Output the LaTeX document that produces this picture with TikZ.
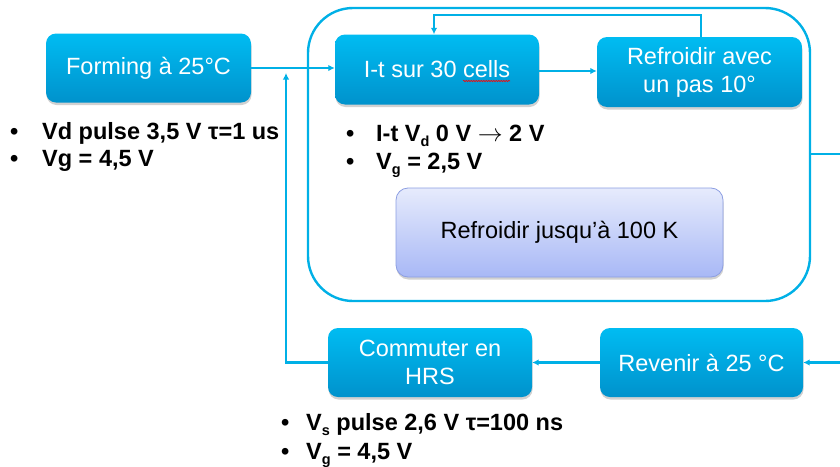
\documentclass[tikz,border=0pt]{standalone}
\usepackage{fontspec}
\setmainfont{Liberation Sans}
\usetikzlibrary{arrows.meta,shadows,decorations.pathmorphing}
\definecolor{cyanline}{RGB}{0,176,230}
\definecolor{boxtop}{RGB}{0,188,242}
\definecolor{boxbot}{RGB}{0,146,204}
\definecolor{lavtop}{RGB}{230,235,252}
\definecolor{lavbot}{RGB}{168,184,246}
\definecolor{lavline}{RGB}{140,158,226}
\newcommand{\mysub}[1]{\raisebox{-5pt}{\fontsize{14.5}{14.5}\selectfont #1}}
\begin{document}
\begin{tikzpicture}[x=1pt,y=-1pt,
  bluebox/.style={rounded corners=10pt, top color=boxtop, bottom color=boxbot, draw=none,
    text=white, align=center, font=\fontsize{23.5}{28}\selectfont, inner sep=0pt,
    drop shadow={shadow xshift=0.5pt, shadow yshift=-2.5pt, opacity=0.3, fill=black!60}},
  lavbox/.style={rounded corners=12pt, top color=lavtop, bottom color=lavbot, draw=lavline,
    line width=0.8pt, text=black, align=center, font=\fontsize{23.5}{28}\selectfont, inner sep=0pt,
    drop shadow={shadow xshift=0.5pt, shadow yshift=-2.5pt, opacity=0.3, fill=black!60}},
  bigbox/.style={rounded corners=45pt, draw=cyanline, line width=2.4pt, inner sep=0pt},
  conn/.style={draw=cyanline, line width=2.2pt},
  arr/.style={-{Latex[length=6.5pt,width=6.5pt]}},
  bul/.style={anchor=base west, inner sep=0pt, font=\fontsize{23.5}{27}\selectfont\bfseries}
]
\useasboundingbox (0,0) rectangle (840,466);
\clip (0,0) rectangle (840,466);

% big container
\node[bigbox, minimum width=502pt, minimum height=293pt] (big) at (559,154.5) {};

% boxes
\node[bluebox, minimum width=205pt, minimum height=69pt] (forming) at (148.5,68) {Forming à 25°C};
\node[bluebox, minimum width=204pt, minimum height=70pt] (it) at (437,69.5) {I-t sur 30 cells};
\node[bluebox, minimum width=205pt, minimum height=70pt] (ref) at (699.5,72) {Refroidir avec\\un pas 10°};
\node[lavbox, minimum width=327pt, minimum height=89pt] (jusq) at (559.5,232.5) {Refroidir jusqu’à 100 K};
\node[bluebox, minimum width=203pt, minimum height=69pt] (revenir) at (701.5,362.5) {Revenir à 25 °C};
\node[bluebox, minimum width=204pt, minimum height=69pt] (commuter) at (430,362.5) {Commuter en\\HRS};

% spell-check squiggle
\draw[red, line width=0.6pt, decorate, decoration={snake, amplitude=0.7pt, segment length=2.5pt}] (463,81) -- (510,81);

% bullet texts
\node[bul] (fb1) at (10,139) {\makebox[32pt][l]{•}Vd pulse 3,5 V τ=1 us};
\node[bul] (fb2) at (10,166) {\makebox[32pt][l]{•}Vg = 4,5 V};
\node[bul] (ib1) at (346,141) {\makebox[30pt][l]{•}I-t V\mysub{d} 0 V {\mdseries$\rightarrow$} 2 V};
\node[bul] (ib2) at (346,169) {\makebox[30pt][l]{•}V\mysub{g} = 2,5 V};
\node[bul] (cb1) at (281,430) {\makebox[25pt][l]{•}V\mysub{s} pulse 2,6 V τ=100 ns};
\node[bul] (cb2) at (281,459) {\makebox[25pt][l]{•}V\mysub{g} = 4,5 V};

% connectors
\coordinate (jt) at (286,73);
\coordinate (lr) at (701,15);
\coordinate (ll) at (434,15);
\coordinate (ro) at (852,154);

\draw[conn, arr] (forming.east) -- (forming.east -| it.west);
\draw[conn, arr] (commuter.west) -| (jt);
\draw[conn, arr] (it.east |- 0,71) -- (ref.west |- 0,71);
\draw[conn, arr] (ref.north -| lr) -- (lr) -- (ll) -- (ll |- it.north);
\draw[conn, arr] (big.east |- ro) -- (ro) -- (ro |- revenir.east) -- (revenir.east);
\draw[conn, arr] (revenir.west) -- (commuter.east);
\end{tikzpicture}
\end{document}
